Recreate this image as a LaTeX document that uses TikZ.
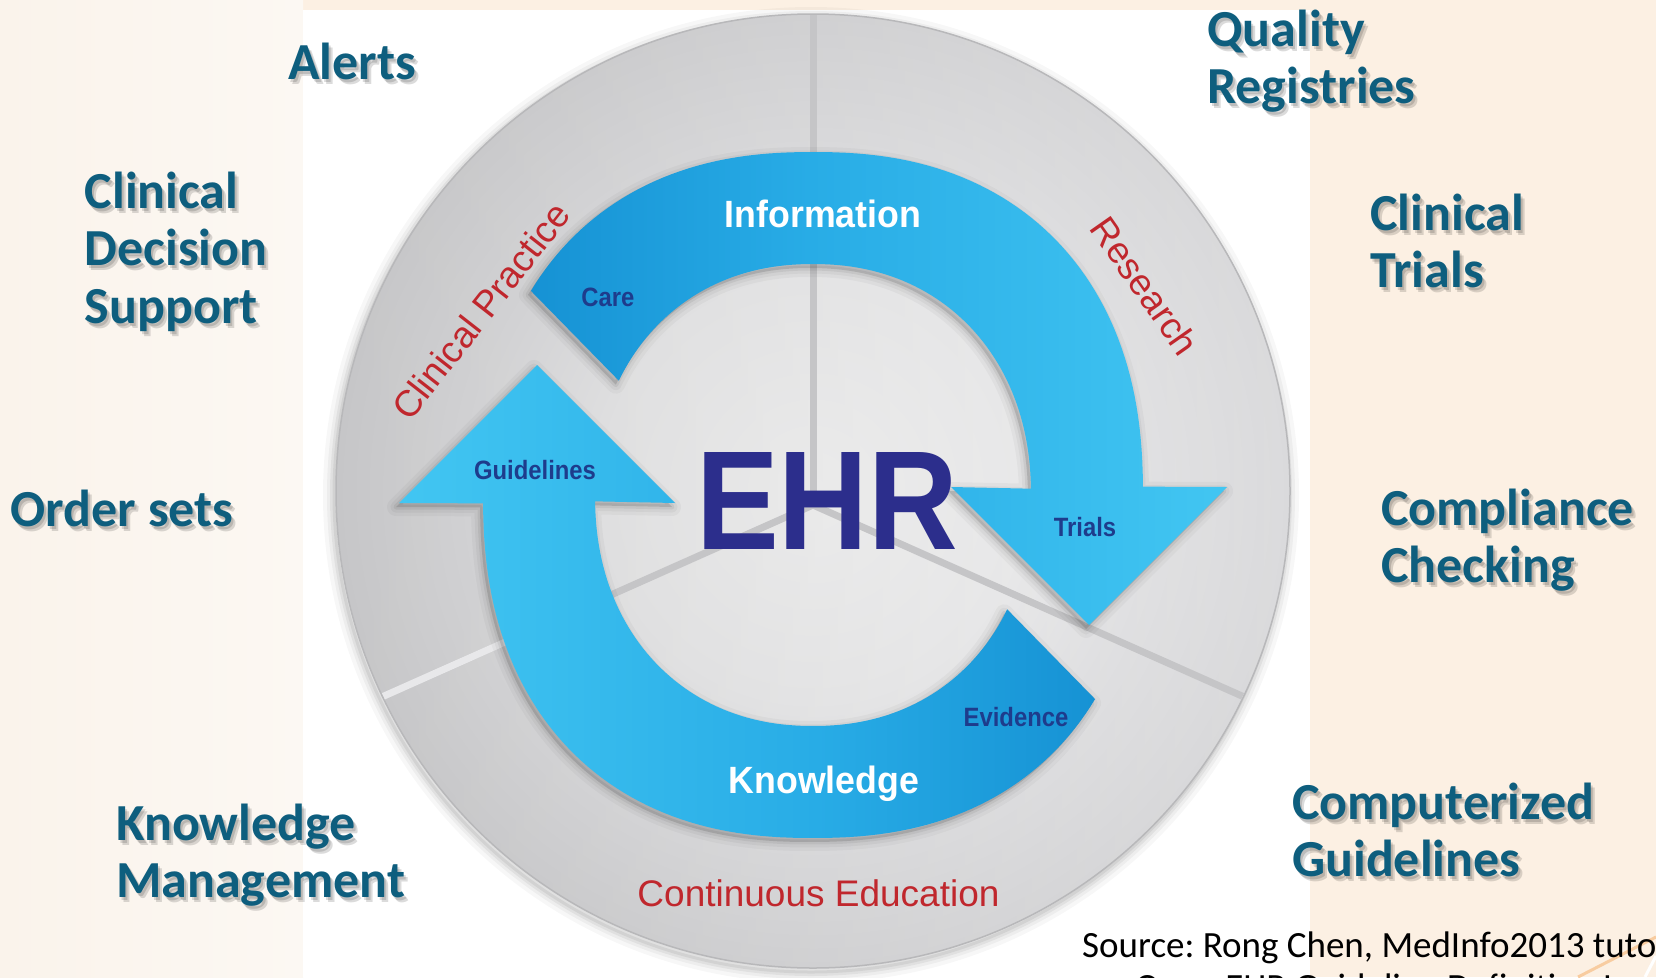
\documentclass[tikz,border=0pt]{standalone}
\usepackage{graphicx}
\usepackage{fontspec}
\setmainfont{Carlito}
\newfontfamily\dinfont{Liberation Sans}
\usetikzlibrary{calc}
\frenchspacing

\definecolor{bgpeach}{RGB}{252,240,227}
\definecolor{bgcreamA}{RGB}{250,243,235}
\definecolor{bgcreamB}{RGB}{252,248,243}
\definecolor{swoosh}{RGB}{248,204,160}
\definecolor{tealtxt}{RGB}{14,94,126}
\definecolor{ehrblue}{RGB}{44,46,140}
\definecolor{tagblue}{RGB}{30,60,140}
\definecolor{sectorred}{RGB}{192,39,45}
\definecolor{dc0}{RGB}{243,243,243}
\definecolor{dc1}{RGB}{235,235,236}
\definecolor{dc2}{RGB}{222,222,224}
\definecolor{dc3}{RGB}{212,212,214}
\definecolor{rim}{RGB}{184,184,186}
\definecolor{groove}{RGB}{197,197,199}
\definecolor{grooveLight}{RGB}{232,232,234}
\definecolor{arrA}{RGB}{22,146,212}
\definecolor{arrB}{RGB}{40,172,230}
\definecolor{arrC}{RGB}{66,198,242}

\pgfdeclarehorizontalshading{arrowshade}{100bp}{color(0bp)=(arrA); color(25bp)=(arrA); color(45bp)=(arrB); color(75bp)=(arrC); color(100bp)=(arrC)}
\pgfdeclareradialshading{discshade}{\pgfpoint{0bp}{0bp}}{color(0bp)=(dc0); color(11bp)=(dc1); color(18bp)=(dc2); color(25bp)=(dc3); color(50bp)=(dc3)}

% the two curved arrows of the cycle (screen coordinates, y downwards);
% outer edges are slightly squarish ellipses (sx, sy), inner edges a little rounder (ix, iy)
\newcommand\toparrowpath{plot[domain=213.4:359.2,samples=90] ({813+330*sx(\x)},{495+343*sy(\x)}) -- (1227,487) -- (1089,625) -- (951,487) -- plot[domain=358.8:208,samples=90] ({813+218*ix(\x)},{495+231*iy(\x)}) -- cycle}
\newcommand\botarrowpath{plot[domain=33.4:179.2,samples=90] ({813+330*sx(\x)},{495+343*sy(\x)}) -- (399,503) -- (537,365) -- (675,503) -- plot[domain=178.8:28,samples=90] ({813+218*ix(\x)},{495+231*iy(\x)}) -- cycle}

\tikzset{
  reach/.style={font=\bfseries\fontsize{52}{57.5}\selectfont, inner sep=0, anchor=base west},
  sector/.style={font=\dinfont\fontsize{37}{37}\selectfont, text=sectorred, inner sep=0},
  flowword/.style={font=\dinfont\bfseries\fontsize{38}{38}\selectfont, text=white, inner sep=0, anchor=base},
  tag/.style={font=\dinfont\bfseries\fontsize{26.5}{26.5}\selectfont, text=tagblue, inner sep=0, anchor=base},
  srcline/.style={font=\fontsize{37}{42}\selectfont, text=black, inner sep=0, anchor=base west}
}

% teal application label with a soft shadow
\newcommand\reachlabel[3]{%
  \node[reach,text=black,opacity=.14] (#1-sa) at ($(#2)+(2,3)$) {#3};
  \node[reach,text=black,opacity=.14] (#1-sb) at ($(#2)+(4,5)$) {#3};
  \node[reach,text=tealtxt] (#1) at (#2) {#3};}
\newcommand\stack[1]{\begin{tabular}[t]{@{}l@{}}#1\end{tabular}}

\begin{document}
\begin{tikzpicture}[x=1pt,y=-1pt,
  declare function={sx(\t)=cos(\t)*(abs(cos(\t))+0.0001)^(-0.1304);
                    sy(\t)=sin(\t)*(abs(sin(\t))+0.0001)^(-0.1304);
                    ix(\t)=cos(\t)*(abs(cos(\t))+0.0001)^(-0.0698);
                    iy(\t)=sin(\t)*(abs(sin(\t))+0.0001)^(-0.0698);}]
\useasboundingbox (0,0) rectangle (1656,977);
\clip (0,0) rectangle (1656,977);

% backgrounds
\fill[bgpeach] (0,0) rectangle (1656,977);
\shade[left color=bgcreamA, right color=bgcreamB] (0,0) rectangle (303,977);
\fill[white] (303,10) rectangle (1310,977);
\draw[swoosh, line width=3] (1578,977) -- (1656,937);
\draw[white, line width=3] (1645,977) -- (1656,956);

% disc with soft shadow
\foreach \w/\o in {22/0.03,14/0.04,8/0.05,3/0.06}
  \draw[black,opacity=\o,line width=\w] (811,495) circle[radius=477];
\shade[shading=discshade] (813,491) circle[radius=477];
\shade[left color=gray, right color=white, opacity=.16] (813,491) circle[radius=477];
\draw[rim, line width=1.5] (813,491) circle[radius=477];

% dividing grooves
\begin{scope}
  \clip (813,491) circle[radius=476];
  \coordinate (hub) at (813,505);
  \coordinate (gtop) at (813,10);
  \coordinate (gright) at (1260.6,704.3);
  \coordinate (gleft) at (365.4,704.3);
  \coordinate (gleftring) at (507,641.2);
  \draw[groove, line width=7, line cap=round] (hub) -- (gtop);
  \draw[groove, line width=7, line cap=round] (hub) -- (gright);
  \draw[groove, line width=7, line cap=round] (hub) -- (gleft);
  \draw[grooveLight, line width=7] (gleftring) -- (gleft);
\end{scope}

% arrow shadows
\fill[black,opacity=.12,shift={(-3,4)}] \toparrowpath;
\fill[black,opacity=.12,shift={(-3,4)}] \botarrowpath;
\foreach \w/\o in {18/0.03,11/0.04,5/0.06} {
  \draw[black,opacity=\o,line width=\w,line join=round,shift={(-3,4)}] \toparrowpath;
  \draw[black,opacity=\o,line width=\w,line join=round,shift={(-3,4)}] \botarrowpath;
}

% arrows
\path[shading=arrowshade] \toparrowpath;
\path[shading=arrowshade, shading angle=180] \botarrowpath;

% centre
\node[font=\dinfont\bfseries\fontsize{141}{141}\selectfont, text=ehrblue, inner sep=0, anchor=base] (ehr) at (827,549) {\scalebox{.88}[1]{EHR}};

% words on the arrows
\node[flowword] (info) at (823,227) {\scalebox{.94}[1]{Information}};
\node[flowword] (know) at (824,793) {\scalebox{.94}[1]{Knowledge}};
\node[tag] (care) at (608,306) {\scalebox{.9}[1]{Care}};
\node[tag] (guide) at (535,479) {\scalebox{.9}[1]{Guidelines}};
\node[tag] (trials) at (1085,536) {\scalebox{.9}[1]{Trials}};
\node[tag] (evid) at (1016,726) {\scalebox{.9}[1]{Evidence}};

% sector names
\node[sector, rotate=52] (cp) at (481,311) {Clinical Practice};
\node[sector, rotate=-55] (rs) at (1145,286) {Research};
\node[sector, anchor=base] (ce) at (818.5,906) {Continuous Education};

% applications around the cycle
\reachlabel{alerts}{288,79}{Alerts}
\reachlabel{cds}{84.5,208}{\stack{Clinical\\Decision\\Support}}
\reachlabel{orders}{10.6,526}{Order sets}
\reachlabel{km}{116,840}{\stack{Knowledge\\Management}}
\reachlabel{qr}{1207,46}{\stack{Quality\\Registries}}
\reachlabel{ct}{1370,230}{\stack{Clinical\\Trials}}
\reachlabel{cc}{1381,525}{\stack{Compliance\\Checking}}
\reachlabel{cg}{1292,819}{\stack{Computerized\\Guidelines}}

% source
\node[srcline] (src1) at (1082,957) {Source: Rong Chen, MedInfo2013 tutorial};
\node[srcline] (src2) at (1135,999) {Open EHR Guideline Definition Language};
\end{tikzpicture}
\end{document}
